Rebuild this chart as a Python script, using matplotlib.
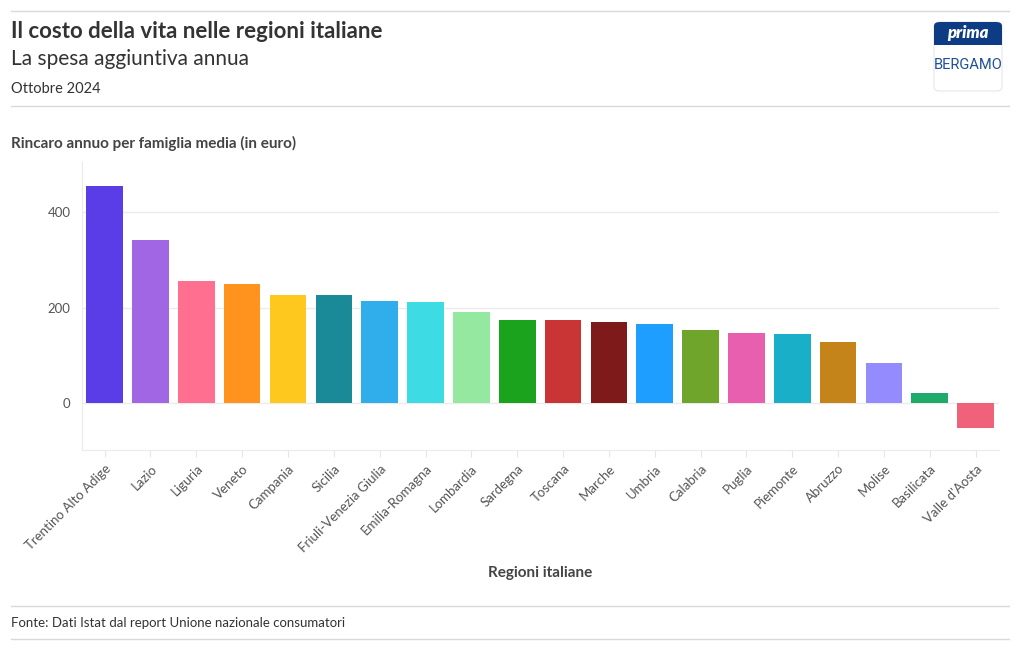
import matplotlib.pyplot as plt
from matplotlib.patches import FancyBboxPatch, Rectangle
from matplotlib.lines import Line2D

plt.rcParams['font.family'] = ['Lato', 'DejaVu Sans']

# Dati
regioni = ["Trentino Alto Adige", "Lazio", "Liguria", "Veneto", "Campania", "Sicilia",
           "Friuli-Venezia Giulia", "Emilia-Romagna", "Lombardia", "Sardegna", "Toscana",
           "Marche", "Umbria", "Calabria", "Puglia", "Piemonte", "Abruzzo", "Molise",
           "Basilicata", "Valle d'Aosta"]
rincaro = [456, 342, 256, 249, 227, 227, 213, 211, 190, 174, 173, 169, 165, 152, 146,
           144, 128, 83, 20, -52]
colori = ["#5a3de6", "#a066e3", "#ff7090", "#ff931e", "#ffc81e", "#1a8a99", "#30adeb",
          "#3ddbe3", "#94e8a0", "#1ca31e", "#c93434", "#7e1a1a", "#1e9eff", "#6ea52a",
          "#e85fb0", "#1aafc8", "#c4841a", "#948bff", "#1eab6a", "#f0627a"]
y_ticks = [0, 200, 400]

W, H = 1020, 650
fig = plt.figure(figsize=(W / 100, H / 100), dpi=100)

def fx(px):
    return px / W

def fy(py):
    return 1 - py / H

# area del grafico
ax = fig.add_axes([fx(81.7), fy(450), fx(998.6 - 81.7), (450 - 161.7) / H])
x = range(len(regioni))
ax.bar(x, rincaro, width=0.8, color=colori, zorder=3)
ax.set_xlim(-0.5, len(regioni) - 0.5)
ax.set_ylim(-99, 506)
ax.set_yticks(y_ticks)
ax.set_yticklabels([str(v) for v in y_ticks], fontsize=9.5, color="#555555")
ax.set_xticks(list(x))
ax.set_xticklabels(regioni, rotation=45, ha="right", rotation_mode="anchor",
                   fontsize=9.5, color="#555555")
ax.tick_params(axis="y", length=0, pad=8)
ax.tick_params(axis="x", length=5, color="#e6e6e6", pad=4)
ax.grid(axis="y", color="#ebebeb", linewidth=1, zorder=0)
for s in ["top", "right"]:
    ax.spines[s].set_visible(False)
ax.spines["left"].set_color("#ebebeb")
ax.spines["bottom"].set_color("#ebebeb")

# testi
fig.text(fx(11), fy(32), "Il costo della vita nelle regioni italiane", fontsize=16,
         fontweight="bold", color="#333333", va="center")
fig.text(fx(11), fy(59), "La spesa aggiuntiva annua", fontsize=15, color="#333333", va="center")
fig.text(fx(11), fy(89), "Ottobre 2024", fontsize=10.5, color="#333333", va="center")
fig.text(fx(11), fy(143), "Rincaro annuo per famiglia media (in euro)", fontsize=11,
         fontweight="bold", color="#444444", va="center")
fig.text(fx(540), fy(573), "Regioni italiane", fontsize=11, fontweight="bold",
         color="#444444", va="center", ha="center")
fig.text(fx(11), fy(623), "Fonte: Dati Istat dal report Unione nazionale consumatori",
         fontsize=9.5, color="#333333", va="center")

# linee di separazione
for py in [11, 106, 606, 639]:
    fig.add_artist(Line2D([fx(11), fx(1009)], [fy(py), fy(py)], color="#d9d9d9", lw=1))

# logo
fig.add_artist(FancyBboxPatch((fx(934), fy(91)), fx(68), 69 / H,
                              boxstyle="round,pad=0,rounding_size=0.006",
                              facecolor="white", edgecolor="#e6e6e6", lw=0.8))
fig.add_artist(FancyBboxPatch((fx(934), fy(45)), fx(68), 23 / H,
                              boxstyle="round,pad=0,rounding_size=0.006",
                              facecolor="#0d3c85", lw=0))
fig.add_artist(Rectangle((fx(934), fy(45)), fx(68), 10 / H, facecolor="#0d3c85", lw=0))
fig.text(fx(968), fy(33), "prima", fontsize=12, fontweight="heavy", fontstyle="italic",
         color="white", ha="center", va="center")
fig.text(fx(968), fy(65), "BERGAMO", fontsize=10.5, color="#1f4f97", ha="center",
         va="center", family=["Roboto", "DejaVu Sans"])

fig.savefig("out.png", dpi=100)
